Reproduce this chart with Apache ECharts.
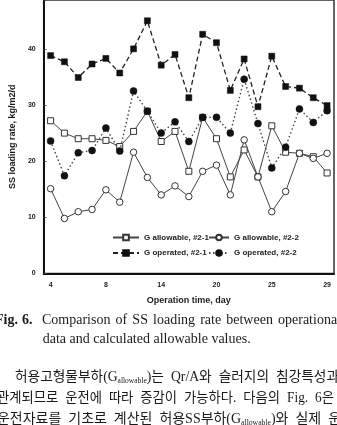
<!DOCTYPE html>
<html><head><meta charset="utf-8">
<script src="https://cdn.jsdelivr.net/npm/echarts@6/dist/echarts.min.js"></script>
<style>html,body{margin:0;padding:0;background:#fff;overflow:hidden}#c{width:337px;height:425px}</style>
</head><body><div id="c"></div>
<script>
// ---- data ----
const tickLabels = ['4', '8', '14', '20', '25', '29'];
const pointIndex = ['0','1','2','3','4','5','6','7','8','9','10','11','12','13','14','15','16','17','18','19','20'];
const allow21 = [27.2, 25.0, 24.0, 24.0, 23.7, 22.6, 25.3, 28.9, 23.5, 25.3, 18.2, 27.8, 24.0, 17.2, 22.0, 17.2, 26.3, 21.6, 21.4, 20.8, 17.9];
const allow22 = [15.1, 9.8, 11.0, 11.4, 14.9, 12.7, 21.6, 17.1, 14.0, 15.6, 13.7, 18.2, 19.3, 14.0, 23.8, 17.2, 11.0, 14.6, 21.4, 20.5, 21.4];
const oper21 = [38.8, 37.7, 34.9, 37.3, 38.3, 35.7, 40.0, 45.0, 37.1, 39.0, 31.3, 42.6, 41.1, 32.6, 38.2, 29.7, 38.7, 33.3, 33.0, 31.3, 29.9];
const oper22 = [23.6, 17.4, 21.5, 21.9, 25.9, 21.8, 32.5, 28.9, 25.0, 27.0, 23.5, 27.8, 27.8, 25.0, 34.6, 26.7, 18.8, 22.5, 29.3, 26.9, 29.0];
const yTicks = [0, 10, 20, 30, 40];

const captionBold = ['Fig.', '6.'];
const caption1 = ['Comparison', 'of', 'SS', 'loading', 'rate', 'between', 'operational'];
const caption2 = 'data and calculated allowable values.';
// words; pieces flagged with 1 are subscripts
const para1 = [[['허용고형물부하(G'], ['allowable', 1], [')는']], [['Qr/A와']], [['슬러지의']], [['침강특성과']]];
const para2 = [[['관계되므로']], [['운전에']], [['따라']], [['증감이']], [['가능하다.']], [['다음의']], [['Fig.']], [['6은']]];
const para3 = [[['운전자료를']], [['기초로']], [['계산된']], [['허용SS부하(G'], ['allowable', 1], [')와']], [['실제']], [['운']]];

// ---- chart ----
const chart = echarts.init(document.getElementById('c'), null, {renderer: 'canvas'});
const SANS = 'Liberation Sans, Arial, sans-serif';
const SERIF = 'Liberation Serif, Times New Roman, serif';
const KR = 'Liberation Serif, Noto Sans CJK KR, serif';

const ctx = document.createElement('canvas').getContext('2d');
function measure(t, size, fam, weight) {
  ctx.font = (weight || 'normal') + ' ' + size + 'px ' + fam;
  return ctx.measureText(t).width;
}
const graphics = [];
function addText(t, x, y, size, fam, weight, scaleX) {
  graphics.push({type: 'text', x: x, y: y, scaleX: scaleX || 1,
    style: {text: t, fontSize: size, fontFamily: fam, fontWeight: weight || 'normal',
      fill: '#1a1a1a', verticalAlign: 'middle', align: 'left'}});
}
function justify(words, x0, x1, y, size, fam, minGap) {
  const subSize = size * 0.55;
  const widths = words.map(w => w.reduce((s, p) => s + measure(p[0], p[1] ? subSize : size, fam), 0));
  const W = widths.reduce((a, b) => a + b, 0);
  const n = words.length;
  let s = 1, gap = (x1 - x0 - W) / (n - 1);
  if (gap < minGap) { gap = minGap; s = (x1 - x0 - minGap * (n - 1)) / W; }
  let x = x0;
  words.forEach((w, i) => {
    let off = 0;
    w.forEach(p => {
      const sz = p[1] ? subSize : size;
      addText(p[0], x + off * s, y + (p[1] ? size * 0.28 : 0), sz, fam, 'normal', s);
      off += measure(p[0], sz, fam);
    });
    x += widths[i] * s + gap;
  });
}
// caption
addText(captionBold[0], -5, 320, 14, SERIF, 'bold');
addText(captionBold[1], 22, 320, 14, SERIF, 'bold');
justify(caption1.map(w => [[w]]), 42, 341, 320, 14, SERIF, 3);
addText(caption2, 42.7, 339, 14, SERIF);
// Korean paragraph
justify(para1, 15, 339, 377, 14, KR, 7);
justify(para2, -3, 334, 398, 14, KR, 7);
justify(para3, -3, 341, 419, 14, KR, 7);

const lineCol = '#333';
chart.setOption({
  animation: false,
  backgroundColor: '#fff',
  grid: {left: 33, right: 3, top: -3, bottom: 151.5, show: true, borderColor: '#333', borderWidth: 1.5},
  legend: [
    {data: ['G allowable, #2-1', 'G operated, #2-1'], orient: 'vertical', left: 112, top: 233.5, padding: 0,
      itemWidth: 26, itemHeight: 7, itemGap: 7.5,
      textStyle: {fontSize: 8, fontWeight: 'bold', fontFamily: SANS, color: '#222'}},
    {data: ['G allowable, #2-2', 'G operated, #2-2'], orient: 'vertical', left: 208, top: 233.5, padding: 0,
      itemWidth: 20, itemHeight: 7, itemGap: 7.5,
      textStyle: {fontSize: 8, fontWeight: 'bold', fontFamily: SANS, color: '#222'}}
  ],
  xAxis: {
    type: 'category', data: pointIndex, boundaryGap: true,
    name: 'Operation time, day', nameLocation: 'middle', nameGap: 22.5,
    nameTextStyle: {fontSize: 9, fontWeight: 'bold', fontFamily: SANS, color: '#1a1a1a'},
    axisLine: {lineStyle: {color: '#111', width: 2}},
    axisTick: {inside: true, length: 3, interval: 0, lineStyle: {color: '#666', width: 0.8}},
    axisLabel: {interval: 0, fontSize: 7, fontWeight: 'bold', fontFamily: SANS, color: '#222', margin: 8,
      formatter: (v, i) => (i % 4 === 0 ? tickLabels[i / 4] : '')},
    splitLine: {show: false}
  },
  yAxis: {
    type: 'value', min: 0, max: 48.7, interval: 10,
    name: 'SS loading rate, kg/m2/d', nameLocation: 'middle', nameGap: 26,
    nameTextStyle: {fontSize: 9, fontWeight: 'bold', fontFamily: SANS, color: '#1a1a1a'},
    axisLine: {show: true, lineStyle: {color: '#111', width: 2}},
    axisTick: {show: true, inside: true, length: 3, lineStyle: {color: '#444', width: 0.8}},
    axisLabel: {fontSize: 7, fontWeight: 'bold', fontFamily: SANS, color: '#222', margin: 8,
      formatter: v => (yTicks.indexOf(v) >= 0 ? String(v) : '')},
    splitLine: {show: false}
  },
  series: [
    {name: 'G allowable, #2-1', type: 'line', data: allow21, symbol: 'rect', symbolSize: 6,
      itemStyle: {color: '#fff', borderColor: lineCol, borderWidth: 1},
      lineStyle: {color: '#444', width: 1}, z: 2},
    {name: 'G allowable, #2-2', type: 'line', data: allow22, symbol: 'circle', symbolSize: 6.5,
      itemStyle: {color: '#fff', borderColor: lineCol, borderWidth: 1},
      lineStyle: {color: '#444', width: 1}, z: 2},
    {name: 'G operated, #2-1', type: 'line', data: oper21, symbol: 'rect', symbolSize: 6,
      itemStyle: {color: '#111', borderColor: '#111', borderWidth: 0.5},
      lineStyle: {color: '#222', width: 1.3, type: [5, 3]}, z: 3},
    {name: 'G operated, #2-2', type: 'line', data: oper22, symbol: 'circle', symbolSize: 7,
      itemStyle: {color: '#111', borderColor: '#111', borderWidth: 0.5},
      lineStyle: {color: '#444', width: 1.4, type: [1.5, 2.5]}, z: 3}
  ],
  graphic: graphics
});
</script>
</body></html>
